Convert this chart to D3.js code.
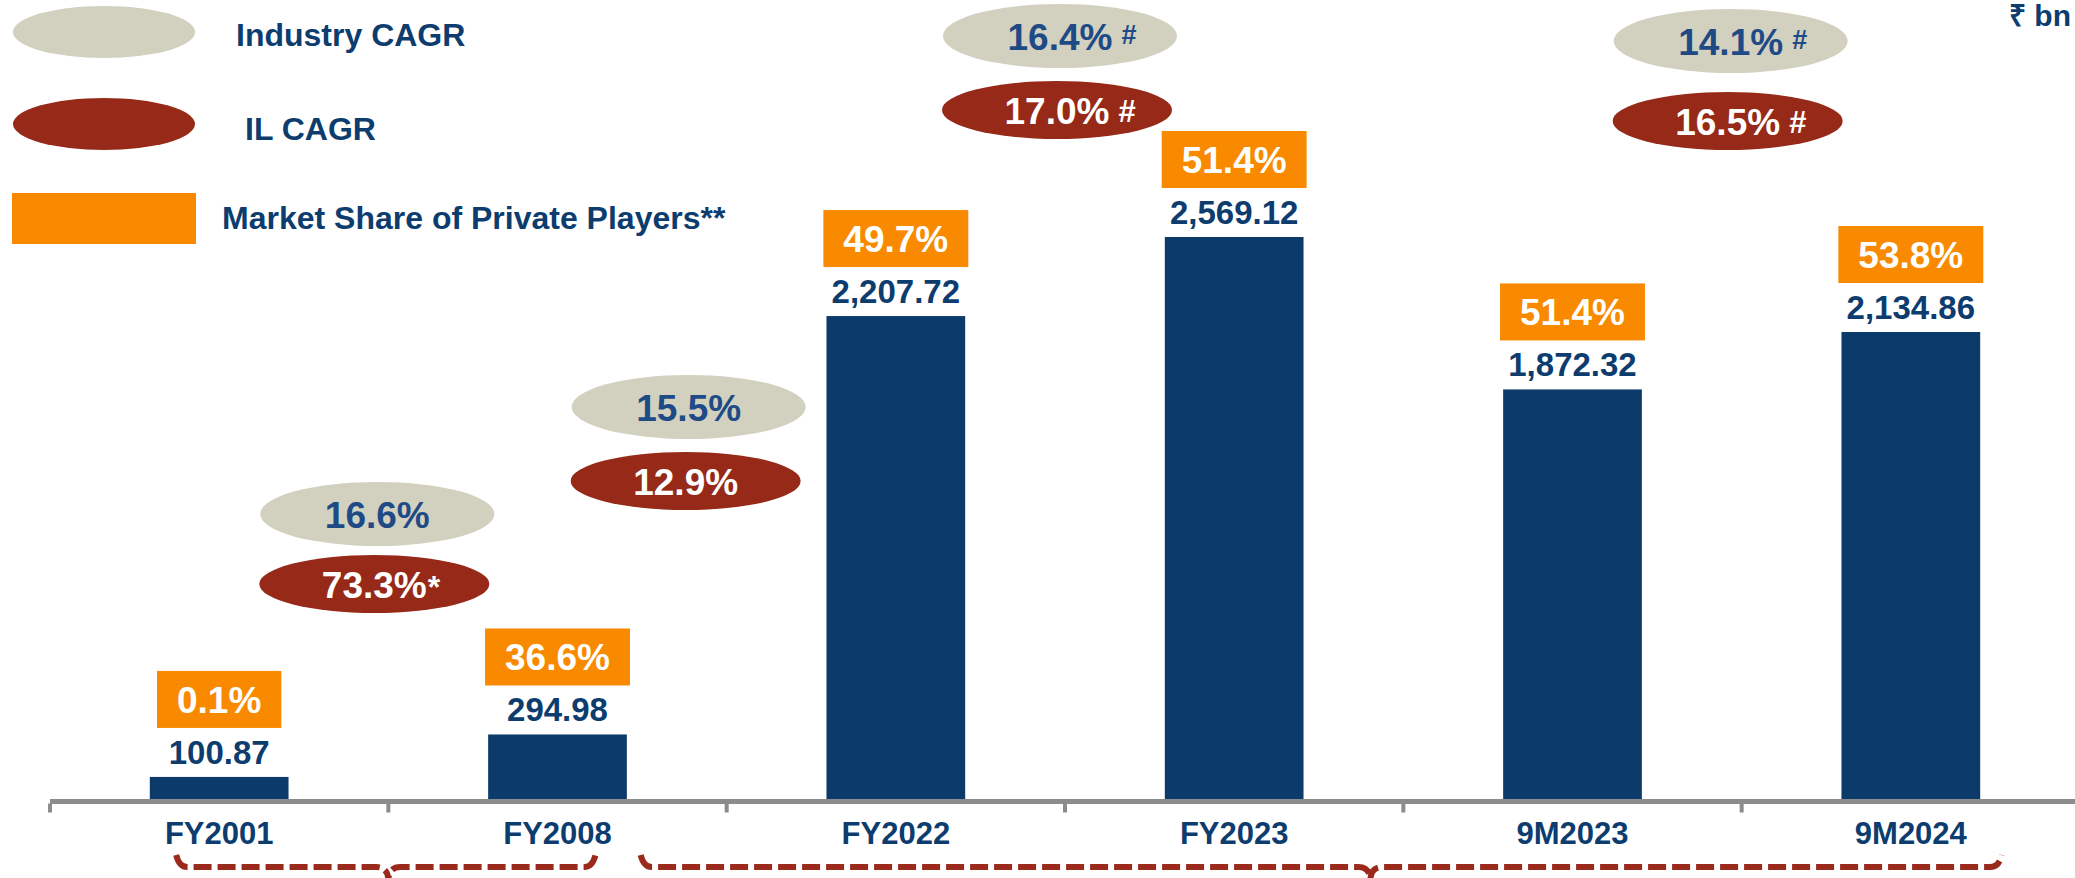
<!DOCTYPE html>
<html>
<head>
<meta charset="utf-8">
<script src="https://cdn.jsdelivr.net/npm/d3@7/dist/d3.min.js"></script>
<style>
  html, body { margin: 0; padding: 0; background: #fff; }
  svg { display: block; font-family: "Liberation Sans", Arial, sans-serif; font-weight: bold; }
</style>
</head>
<body>
<div id="chart"></div>
<script>
// chart data
const categories = ["FY2001", "FY2008", "FY2022", "FY2023", "9M2023", "9M2024"];
const values = [100.87, 294.98, 2207.72, 2569.12, 1872.32, 2134.86];
const valueLabels = ["100.87", "294.98", "2,207.72", "2,569.12", "1,872.32", "2,134.86"];
const privateShare = [0.1, 36.6, 49.7, 51.4, 51.4, 53.8];

// CAGR between two periods
const cagrFrom = ["FY2001", "FY2008", "FY2022", "9M2023"];
const cagrTo = ["FY2008", "FY2022", "FY2023", "9M2024"];
const industryCagr = [16.6, 15.5, 16.4, 14.1];
const ilCagr = [73.3, 12.9, 17.0, 16.5];
const industryNote = ["", "", "#", "#"];
const ilNote = ["*", "", "#", "#"];

const bracketFrom = ["FY2001", "FY2022"];
const bracketTo = ["FY2008", "9M2024"];

const legendLabels = ["Industry CAGR", "IL CAGR", "Market Share of Private Players**"];
const unitLabel = "₹ bn";

document.addEventListener('DOMContentLoaded', function () {
    const width = 2075, height = 878;
    const axisY = 801.5;

    const navy = "#0b3a6b";
    const textNavy = "#0d3c6e";
    const orange = "#f98a00";
    const beige = "#d2d0be";
    const brick = "#962917";
    const industryText = "#1e4a86";
    const axisGray = "#8c8c8c";

    const svg = d3.select("#chart")
        .append("svg")
        .attr("width", width)
        .attr("height", height);

    const x = d3.scaleBand().domain(categories).range([50, 2080]).padding(0);
    const xc = d => x(d) + x.bandwidth() / 2;
    const barW = x.bandwidth() * 0.41;

    const y = d3.scaleLinear()
        .domain([0, d3.max(values)])
        .range([799, 237]);

    const rows = categories.map((c, i) => ({
        cat: c, value: values[i], label: valueLabels[i], share: privateShare[i]
    }));

    // bars
    svg.selectAll(".bar")
        .data(rows)
        .join("rect")
        .attr("class", "bar")
        .attr("x", d => xc(d.cat) - barW / 2)
        .attr("y", d => y(d.value))
        .attr("width", barW)
        .attr("height", d => y(0) - y(d.value))
        .attr("fill", navy);

    // value labels
    svg.selectAll(".val")
        .data(rows)
        .join("text")
        .attr("class", "val")
        .attr("x", d => xc(d.cat))
        .attr("y", d => y(d.value) - 13)
        .attr("text-anchor", "middle")
        .attr("fill", textNavy)
        .style("font-size", "33px")
        .text(d => d.label);

    // market share boxes
    const shareG = svg.selectAll(".share")
        .data(rows)
        .join("g")
        .attr("class", "share");

    shareG.each(function (d) {
        const g = d3.select(this);
        const boxBottom = y(d.value) - 49;
        const t = g.append("text")
            .attr("x", xc(d.cat))
            .attr("y", boxBottom - 15)
            .attr("text-anchor", "middle")
            .attr("fill", "#fff")
            .style("font-size", "37px")
            .text(d3.format(".1f")(d.share) + "%");
        const w = t.node().getComputedTextLength() + 40;
        g.insert("rect", "text")
            .attr("x", xc(d.cat) - w / 2)
            .attr("y", boxBottom - 57)
            .attr("width", w)
            .attr("height", 57)
            .attr("fill", orange);
    });

    // CAGR ellipses
    const cagrDx = [-11, -38, -5, -11];
    const cagrY = [514, 407, 36, 41];
    const ilGap = [70, 74, 74, 80];

    function ellipseLabel(cx, cy, rx, ry, fill, color, value, note, big) {
        svg.append("ellipse")
            .attr("cx", cx).attr("cy", cy)
            .attr("rx", rx).attr("ry", ry)
            .attr("fill", fill);
        const t = svg.append("text")
            .attr("x", cx)
            .attr("y", cy + 14)
            .attr("text-anchor", "middle")
            .attr("fill", color)
            .style("font-size", "37px")
            .text(value.toFixed(1) + "%");
        if (note) {
            const half = t.node().getComputedTextLength() / 2;
            const star = note === "*";
            svg.append("text")
                .attr("x", cx + half + (star ? 1 : 9))
                .attr("y", cy + 14 - (star ? 0 : (big ? 2 : 6)))
                .attr("fill", color)
                .style("font-size", star ? "32px" : (big ? "31px" : "27px"))
                .text(note);
        }
    }

    cagrFrom.forEach((from, i) => {
        const mid = (xc(from) + xc(cagrTo[i])) / 2 + cagrDx[i];
        ellipseLabel(mid, cagrY[i], 117, 32, beige, industryText, industryCagr[i], industryNote[i], false);
        ellipseLabel(mid - 3, cagrY[i] + ilGap[i], 115, 29, brick, "#fff", ilCagr[i], ilNote[i], true);
    });

    // x axis labels
    const xAxis = svg.append("g")
        .attr("transform", "translate(0," + axisY + ")")
        .call(d3.axisBottom(x).tickSize(0).tickPadding(20.5));
    xAxis.select(".domain").remove();
    xAxis.selectAll("text")
        .attr("fill", textNavy)
        .style("font-size", "31px")
        .style("font-family", "'Liberation Sans', Arial, sans-serif")
        .style("font-weight", "bold");

    // axis line and boundary ticks
    svg.append("line")
        .attr("x1", x.range()[0]).attr("x2", width)
        .attr("y1", axisY).attr("y2", axisY)
        .attr("stroke", axisGray)
        .attr("stroke-width", 5);

    const bounds = categories.map(c => x(c)).concat([x.range()[1]]);
    svg.selectAll(".tick-mark")
        .data(bounds)
        .join("line")
        .attr("class", "tick-mark")
        .attr("x1", d => d).attr("x2", d => d)
        .attr("y1", axisY + 2).attr("y2", axisY + 11)
        .attr("stroke", axisGray)
        .attr("stroke-width", 4);

    // period braces under the axis
    const braceY = 867;
    const braceLayout = [
        { x0: xc("FY2001") - 40, x1: xc("FY2008") + 35, tip: x("FY2008") },
        { x0: x("FY2022") - 83, x1: xc("9M2024") + 88, tip: x("9M2023") - 33 }
    ];
    bracketFrom.forEach((from, i) => {
        const b = braceLayout[i];
        const p = d3.path();
        p.moveTo(b.x0 - 3, braceY - 12);
        p.quadraticCurveTo(b.x0, braceY, b.x0 + 8, braceY);
        p.lineTo(b.tip - 12, braceY);
        p.quadraticCurveTo(b.tip, braceY, b.tip, braceY + 14);
        p.quadraticCurveTo(b.tip, braceY, b.tip + 12, braceY);
        p.lineTo(b.x1 - 8, braceY);
        p.quadraticCurveTo(b.x1, braceY, b.x1 + 3, braceY - 12);
        svg.append("path")
            .attr("d", p.toString())
            .attr("fill", "none")
            .attr("stroke", "#9a2a1c")
            .attr("stroke-width", 6)
            .attr("stroke-dasharray", "18 6");
    });

    // legend
    const legend = svg.append("g");
    legend.append("ellipse")
        .attr("cx", 104).attr("cy", 32).attr("rx", 91).attr("ry", 26)
        .attr("fill", beige);
    legend.append("ellipse")
        .attr("cx", 104).attr("cy", 124).attr("rx", 91).attr("ry", 26)
        .attr("fill", brick);
    legend.append("rect")
        .attr("x", 12).attr("y", 193).attr("width", 184).attr("height", 51)
        .attr("fill", orange);
    const legendX = [236, 245, 222];
    const legendYs = [46, 140, 229];
    legend.selectAll("text")
        .data(legendLabels)
        .join("text")
        .attr("x", (d, i) => legendX[i])
        .attr("y", (d, i) => legendYs[i])
        .attr("fill", textNavy)
        .style("font-size", "32px")
        .text(d => d);

    // unit label, top-right corner
    svg.append("text")
        .attr("x", width - 4)
        .attr("y", 26)
        .attr("text-anchor", "end")
        .attr("fill", textNavy)
        .style("font-size", "30px")
        .text(unitLabel);
});
</script>
</body>
</html>
